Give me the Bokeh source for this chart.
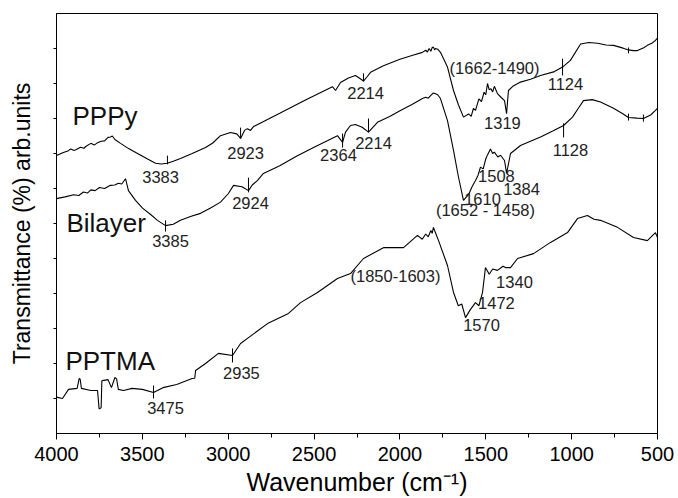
from bokeh.plotting import figure
from bokeh.models import Range1d, FixedTicker, ColumnDataSource
from bokeh.core.properties import value
from bokeh.embed import file_html
from bokeh.resources import INLINE

# ---------------- data (wavenumber cm^-1, transmittance arb. units) -------------
pppy_wn = [4000, 3960, 3930, 3918, 3900, 3890, 3860, 3840, 3830, 3800, 3780, 3761, 3740,
           3720, 3700, 3686, 3675, 3660, 3627, 3580,
           3528, 3470, 3423, 3390, 3354, 3320, 3278, 3210, 3132, 3090, 3045, 2987, 2950,
           2928, 2905, 2888, 2870, 2853, 2700, 2550, 2393, 2375, 2346, 2300, 2259, 2235,
           2212, 2190, 2171, 2096, 2000, 1930, 1869, 1850, 1840, 1830, 1820, 1812, 1805, 1798,
           1793, 1780, 1764,
           1723, 1688, 1660, 1630, 1600, 1585, 1572, 1560, 1540, 1525, 1510, 1500, 1490, 1480,
           1470, 1460, 1450, 1432, 1410,
           1391, 1379, 1368, 1340, 1298, 1240, 1181, 1100, 1053, 1007, 948, 900, 849, 800,
           756, 700, 669, 640, 617, 580, 559, 530, 512, 500]
pppy_t = [79.4, 80.3, 80.8, 81.3, 80.9, 81.0, 81.8, 81.5, 82.0, 82.9, 82.4, 83.1, 83.5,
          83.6, 84.6, 84.7, 85.0, 84.0, 82.9, 81.4,
          80.0, 78.4, 77.2, 77.0, 77.2, 77.8, 78.6, 80.0, 81.7, 83.0, 85.1, 86.0, 85.6,
          84.3, 86.6, 87.1, 86.6, 87.7, 91.5, 95.3, 99.1, 98.0, 100.3, 101.6, 102.3, 101.5,
          100.7, 102.0, 103.2, 105.1, 106.9, 108.0, 108.9, 109.5, 109.0, 110.0, 109.2, 110.3, 110.4, 109.6,
          110.0, 109.8, 108.9,
          104.7, 98.0, 94.0, 90.4, 91.3, 90.6, 92.9, 92.3, 95.6, 94.8, 97.5, 96.8, 100.0, 98.2,
          98.5, 97.6, 99.2, 97.1, 96.0,
          95.1, 91.4, 98.0, 99.3, 100.4, 101.2, 102.3, 103.4, 104.7, 106.6, 111.3, 111.7, 111.5, 111.0,
          110.9, 110.1, 109.6, 109.4, 109.4, 110.2, 110.9, 111.6, 112.3, 113.0]

bilayer_wn = [4000, 3950, 3900, 3870, 3843, 3820, 3800, 3775, 3750, 3720, 3686, 3660, 3640,
              3620, 3598, 3581, 3540, 3499, 3450,
              3412, 3365, 3320, 3278, 3220, 3161, 3100, 3045, 3000, 2969, 2920, 2882, 2860,
              2829, 2795, 2700, 2600, 2500, 2420, 2364, 2334, 2317, 2288, 2259, 2220, 2183,
              2131, 2060, 1997, 1930, 1869, 1850, 1835, 1820, 1805, 1793, 1780, 1764, 1723, 1688, 1660,
              1630, 1600, 1580, 1560, 1545, 1531, 1515, 1500, 1490, 1473, 1460, 1450, 1430, 1414,
              1391, 1379, 1356, 1298, 1240,
              1181, 1110, 1047, 995, 960, 931, 880, 832, 756, 700, 669, 620, 582, 540, 512, 500]
bilayer_t = [67.1, 67.6, 68.2, 68.0, 69.0, 68.7, 69.6, 69.4, 70.3, 70.0, 70.9, 71.0, 71.5,
             71.3, 72.8, 69.4, 66.6, 64.4, 62.5,
             60.9, 59.4, 59.8, 60.9, 62.0, 62.9, 64.5, 66.1, 68.5, 70.9, 70.5, 69.4, 71.0,
             72.3, 74.3, 76.5, 79.3, 81.8, 83.7, 85.1, 83.2, 86.1, 88.0, 88.3, 87.5, 86.1,
             88.9, 90.6, 92.3, 94.0, 95.7, 96.1, 95.8, 96.6, 97.3, 97.1, 96.8, 95.7, 89.4, 80.9, 73.5,
             66.6, 68.3, 70.5, 72.3, 73.8, 76.1, 75.6, 78.5, 79.6, 81.3, 80.0, 80.4, 79.0, 79.5,
             78.0, 74.3, 80.0, 82.3, 83.5,
             84.7, 86.4, 88.0, 90.4, 93.0, 95.1, 95.4, 94.7, 92.9, 91.3, 90.3, 90.1, 90.0, 91.0, 92.3, 92.9]

pptma_wn = [4000, 3965, 3930, 3880, 3868, 3862, 3855, 3800, 3761, 3752, 3748, 3740, 3736,
            3733, 3700, 3680, 3660, 3650, 3640, 3610, 3560, 3500, 3435, 3380, 3300, 3210,
            3195, 3190, 3132, 3057, 2975, 2928, 2882, 2771, 2649, 2579, 2480, 2364, 2288,
            2212, 2096, 1979, 1898, 1870, 1850, 1835, 1820, 1812, 1805, 1790, 1775, 1723, 1688, 1660, 1640,
            1618, 1590, 1560, 1540, 1519, 1502, 1480, 1460, 1432, 1400, 1385, 1356, 1315,
            1222, 1123, 1024, 966, 908, 870, 832, 733, 640, 559, 512, 500]
pptma_t = [10.4, 10.0, 12.6, 12.9, 15.7, 15.5, 12.9, 12.3, 12.3, 7.1, 7.1, 7.4, 15.0,
           15.1, 15.4, 13.1, 16.0, 15.6, 12.6, 12.3, 12.9, 12.6, 11.7, 13.1, 14.0, 15.7,
           15.8, 18.0, 20.0, 22.9, 22.3, 25.7, 27.4, 31.4, 34.3, 37.4, 40.3, 44.3, 45.7,
           50.0, 53.1, 53.1, 56.6, 55.5, 57.0, 56.2, 58.0, 57.2, 58.9, 57.0, 55.1, 48.0, 40.3, 36.5, 37.0,
           33.1, 35.4, 37.4, 36.5, 40.3, 47.4, 45.5, 47.0, 46.6, 47.8, 47.4, 47.4, 50.0,
           51.4, 54.6, 57.4, 61.4, 62.3, 61.2, 60.9, 58.9, 56.0, 55.1, 57.4, 56.0]

# peak marker ticks (wavenumber, lower, upper)
mark_wn = [3354, 2928, 2212, 1053, 669, 3365, 2882, 2334, 2183, 1047, 669, 582, 3435, 2975]
mark_lo = [76.9, 84.3, 100.6, 102.3, 108.6, 57.7, 68.9, 81.7, 86.0, 84.6, 89.4, 89.1, 10.0, 20.3]
mark_hi = [79.4, 87.4, 102.9, 107.1, 110.3, 60.9, 73.1, 85.7, 90.0, 88.6, 91.4, 91.1, 13.7, 24.3]

# peak annotations
ann_text = ["3383", "2923", "2214", "(1662-1490)", "1319", "1124",
            "3385", "2924", "2364", "2214", "1508", "1384", "1610", "(1652 - 1458)", "1128",
            "3475", "2935", "(1850-1603)", "1570", "1472", "1340"]
ann_wn = [3394, 2899, 2200, 1449, 1403, 1036,
          3336, 2870, 2358, 2154, 1438, 1292, 1519, 1502, 1007,
          3365, 2923, 2026, 1525, 1438, 1333]
ann_t = [73.2, 80.1, 97.4, 104.4, 88.7, 99.9,
         54.9, 65.9, 79.7, 83.1, 73.7, 69.9, 67.0, 64.0, 81.0,
         7.3, 17.3, 44.9, 31.1, 37.3, 43.3]

series_names = ["PPPy", "Bilayer", "PPTMA"]
name_wn = [3907, 3942, 3948]
name_t = [90.6, 60.1, 20.6]

x_ticks = [4000, 3500, 3000, 2500, 2000, 1500, 1000, 500]
x_minor = [3750, 3250, 2750, 2250, 1750, 1250, 750]
y_minor = [10, 20, 30, 40, 50, 60, 70, 80, 90, 100, 110]

FONT = "Liberation Sans"

p = figure(width=676, height=498, output_backend="svg", toolbar_location=None,
           x_range=Range1d(4000, 500), y_range=Range1d(0, 120),
           min_border_left=56, min_border_right=19, min_border_top=13, min_border_bottom=65)
p.background_fill_color = "white"
p.border_fill_color = "white"
p.outline_line_color = "black"
p.outline_line_width = 1
p.xgrid.visible = False
p.ygrid.visible = False

for wn, t in [(pppy_wn, pppy_t), (bilayer_wn, bilayer_t), (pptma_wn, pptma_t)]:
    p.line(wn, t, line_color="black", line_width=1.1)

p.segment(x0=mark_wn, y0=mark_lo, x1=mark_wn, y1=mark_hi, line_color="black", line_width=1)

src = ColumnDataSource(dict(x=ann_wn, y=ann_t, text=ann_text))
p.text(x="x", y="y", text="text", source=src, text_font=value(FONT), text_font_size="16.5px",
       text_align="center", text_baseline="middle", text_color="#222222")

src2 = ColumnDataSource(dict(x=name_wn, y=name_t, text=series_names))
p.text(x="x", y="y", text="text", source=src2, text_font=value(FONT), text_font_size="26px",
       text_align="left", text_baseline="middle", text_color="#111111")

xa = p.xaxis[0]
xa.ticker = FixedTicker(ticks=x_ticks, minor_ticks=x_minor)
xa.axis_label = "Wavenumber (cm\u207b\u00b9)"
xa.axis_label_text_font = FONT
xa.axis_label_text_font_size = "25px"
xa.axis_label_text_font_style = "normal"
xa.axis_label_text_color = "black"
xa.axis_label_standoff = 4
xa.major_label_text_font = FONT
xa.major_label_text_font_size = "20px"
xa.major_label_text_color = "black"
xa.major_label_standoff = 7
xa.major_tick_out = 6
xa.major_tick_in = 0
xa.minor_tick_out = 4
xa.minor_tick_in = 0
xa.axis_line_color = "black"

ya = p.yaxis[0]
ya.ticker = FixedTicker(ticks=[], minor_ticks=y_minor)
ya.major_label_standoff = 0
ya.axis_label = "Transmittance (%) arb.units"
ya.axis_label_text_font = FONT
ya.axis_label_text_font_size = "23px"
ya.axis_label_text_font_style = "normal"
ya.axis_label_text_color = "black"
ya.axis_label_standoff = 19
ya.minor_tick_out = 3
ya.minor_tick_in = 0
ya.major_tick_out = 3
ya.major_tick_in = 0
ya.axis_line_color = "black"

open("out.html", "w").write(file_html(p, INLINE))
